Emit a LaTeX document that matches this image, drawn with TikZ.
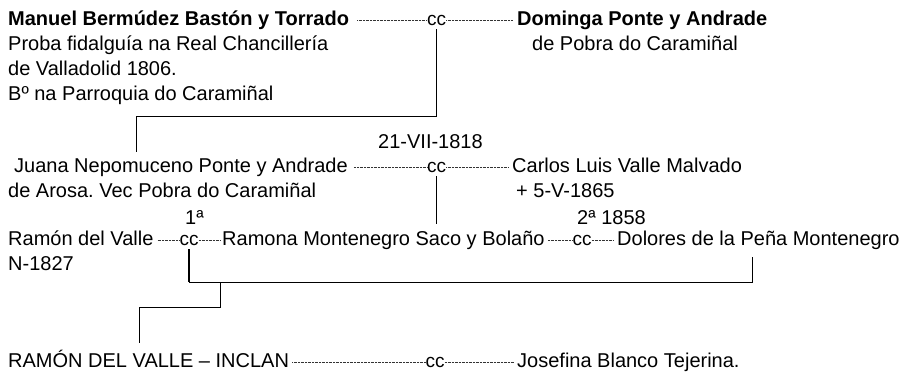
\documentclass[tikz,border=0pt]{standalone}
\usepackage{fontspec}
\setmainfont{Liberation Sans}
\frenchspacing

\tikzset{
    person/.style={anchor=base west, inner sep=0pt, text height=14pt, text depth=4pt, font=\fontsize{20}{24}\selectfont},
    bold person/.style={person, font=\fontsize{20}{24}\selectfont\bfseries},
    marriage/.style={anchor=base, inner sep=0pt, text height=14pt, text depth=4pt, font=\fontsize{19}{22}\selectfont},
    bond/.style={dash pattern=on 0.7pt off 0.7pt, line width=0.6pt, black!80},
    stem/.style={line width=1.5pt},
    bar/.style={line width=1pt},
}

\begin{document}
\begin{tikzpicture}[x=1pt, y=1pt]
        \useasboundingbox (0, 0) rectangle (902, -372);

        \begin{scope}
            \node[bold person] (manuel) at (8, -25) {Manuel Bermúdez Bastón y Torrado};
            \node[marriage] (cc a) at (436.5, -25) {cc};
            \node[bold person] (dominga) at (517, -25) {Dominga Ponte y Andrade};
            \node[person] (dominga note) at (532, -50) {de Pobra do Caramiñal};
            \node[person] (manuel note1) at (8, -50) {Proba fidalguía na Real Chancillería};
            \node[person] (manuel note2) at (8, -75) {de Valladolid 1806.};
            \node[person] (manuel note3) at (8, -100) {Bº na Parroquia do Caramiñal};
            \draw[bond, shorten <=8pt] (manuel) -- (cc a);
            \draw[bond, shorten >=4pt] (cc a) -- (dominga);
            \coordinate (juana top) at (136, -152);
            \draw[bar] (cc a.south) -- ++(0, -87) -| (juana top);
        \end{scope}

        \begin{scope}
            \node[person] (date b) at (378, -148) {21-VII-1818};
            \node[person] (juana) at (14, -172) {Juana Nepomuceno Ponte y Andrade};
            \node[marriage] (cc b) at (436.5, -172) {cc};
            \node[person] (carlos) at (512, -172) {Carlos Luis Valle Malvado};
            \node[person] (juana note) at (8, -197) {de Arosa. Vec Pobra do Caramiñal};
            \node[person] (carlos note) at (516, -197) {+ 5-V-1865};
            \draw[bond, shorten <=6pt] (juana) -- (cc b);
            \draw[bond, shorten >=4pt] (cc b) -- (carlos);
        \end{scope}

        \begin{scope}
            \node[person] (first) at (185, -224) {1ª};
            \node[person] (second) at (577, -224) {2ª 1858};
            \node[person] (ramon) at (8, -245) {Ramón del Valle};
            \node[marriage] (cc c1) at (189, -245) {cc};
            \node[person] (ramona) at (222, -245) {Ramona Montenegro Saco y Bolaño};
            \node[marriage] (cc c2) at (582, -245) {cc};
            \node[person] (dolores) at (617, -245) {Dolores de la Peña Montenegro};
            \node[person] (ramon note) at (8, -270) {N-1827};
            \draw[bond, shorten <=4pt] (ramon) -- (cc c1);
            \draw[bond, shorten >=2pt] (cc c1) -- (ramona);
            \draw[bond, shorten <=3pt] (ramona) -- (cc c2);
            \draw[bond, shorten >=3pt] (cc c2) -- (dolores);
            \draw[stem, shorten >=7pt] (cc b.south) -- (cc b.south |- ramona.north);
        \end{scope}

        \begin{scope}
            \node[person] (inclan) at (8, -367) {RAMÓN DEL VALLE – INCLAN};
            \node[marriage] (cc d) at (435, -367) {cc};
            \node[person] (josefina) at (517, -367) {Josefina Blanco Tejerina.};
            \draw[bond, shorten <=3pt] (inclan) -- (cc d);
            \draw[bond, shorten >=3pt] (cc d) -- (josefina);
            \draw[stem] (cc c1.south) -- ++(0, -33) coordinate (bar left);
            \coordinate (dolores foot) at (752, -257);
            \coordinate (inclan top) at (139, -343);
            \draw[bar] (bar left) -| (dolores foot);
            \draw[bar] (bar left) ++(31, 0) -- ++(0, -25) -| (inclan top);
        \end{scope}
    \end{tikzpicture}
\end{document}
